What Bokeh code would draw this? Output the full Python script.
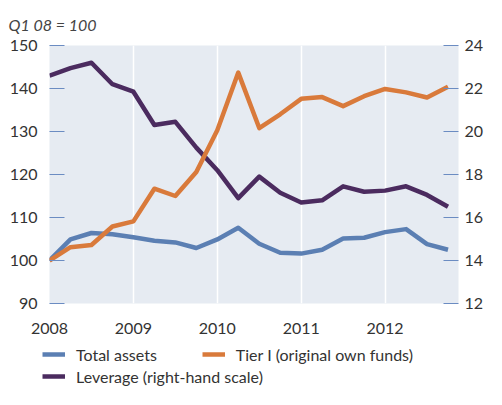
from bokeh.plotting import figure
from bokeh.models import Range1d, LinearAxis, FixedTicker, Legend, LegendItem
from bokeh.embed import file_html
from bokeh.resources import INLINE

# Quarterly observations, Q1 2008 .. Q4 2012
quarters = [2008.0, 2008.25, 2008.5, 2008.75,
            2009.0, 2009.25, 2009.5, 2009.75,
            2010.0, 2010.25, 2010.5, 2010.75,
            2011.0, 2011.25, 2011.5, 2011.75,
            2012.0, 2012.25, 2012.5, 2012.75]

total_assets = [100.0, 104.9, 106.4, 106.1, 105.4, 104.6, 104.2, 102.9,
                104.9, 107.6, 103.9, 101.8, 101.6, 102.5, 105.1, 105.3,
                106.6, 107.3, 103.8, 102.5]
tier1 = [100.0, 103.1, 103.6, 107.9, 109.1, 116.7, 115.0, 120.6,
         130.3, 143.7, 130.8, 134.0, 137.6, 138.0, 135.9, 138.2,
         139.9, 139.1, 137.9, 140.4]
leverage = [22.6, 22.95, 23.2, 22.2, 21.85, 20.3, 20.45, 19.25,
            18.2, 16.9, 17.9, 17.15, 16.7, 16.8, 17.45, 17.2,
            17.25, 17.45, 17.05, 16.5]

series_names = ["Total assets", "Tier I (original own funds)", "Leverage (right-hand scale)"]
year_ticks = [2008, 2009, 2010, 2011, 2012]
year_labels = ["2008", "2009", "2010", "2011", "2012"]
left_ticks = [90, 100, 110, 120, 130, 140, 150]
right_ticks = [12, 14, 16, 18, 20, 22, 24]

BLUE = "#5b7fb3"
ORANGE = "#d97a3b"
PURPLE = "#4b2b5f"
TICK = "#6b8cc2"
TXT = "#333333"
FONT = "Lato"
LW = 4.5

p = figure(width=486, height=336, x_range=Range1d(2008, 2012.875),
           y_range=Range1d(90, 150), output_backend="svg", toolbar_location=None,
           min_border_left=49, min_border_right=26, min_border_top=42,
           min_border_bottom=32, title="Q1 08 = 100")
p.background_fill_color = "#e6ebf2"
p.border_fill_color = "white"
p.outline_line_color = None

p.title.align = "left"
p.title.offset = -41
p.title.standoff = 24
p.title.text_font = FONT
p.title.text_font_style = "italic"
p.title.text_font_size = "16px"
p.title.text_color = "#444444"

p.extra_y_ranges = {"right": Range1d(12, 24)}
raxis = LinearAxis(y_range_name="right", ticker=FixedTicker(ticks=right_ticks))
p.add_layout(raxis, "right")

p.yaxis[0].ticker = FixedTicker(ticks=left_ticks)
for ax in [p.yaxis[0], raxis]:
    ax.axis_line_color = None
    ax.major_tick_in = 15
    ax.major_tick_out = 0
    ax.major_tick_line_color = TICK
    ax.major_tick_line_width = 1.2
    ax.minor_tick_line_color = None
    ax.major_label_text_font = FONT
    ax.major_label_text_font_size = "16px"
    ax.major_label_text_color = TXT
p.yaxis[0].major_label_standoff = 12
raxis.major_label_standoff = 6

xa = p.xaxis[0]
xa.ticker = FixedTicker(ticks=year_ticks)
xa.major_label_overrides = {t: l for t, l in zip(year_ticks, year_labels)}
xa.axis_line_color = None
xa.major_tick_line_color = None
xa.minor_tick_line_color = None
xa.major_label_standoff = 13
xa.major_label_text_font = FONT
xa.major_label_text_font_size = "16px"
xa.major_label_text_color = TXT

p.xgrid.ticker = FixedTicker(ticks=year_ticks[1:])
p.xgrid.grid_line_color = "white"
p.xgrid.grid_line_width = 1.5
p.ygrid.grid_line_color = None

p.line(quarters, leverage, y_range_name="right", line_color=PURPLE,
       line_width=LW, line_join="round")
p.line(quarters, total_assets, line_color=BLUE, line_width=LW, line_join="round")
p.line(quarters, tier1, line_color=ORANGE, line_width=LW, line_join="round")

# Legend strip below the chart (its own frame spans the full width, so nothing is clipped)
pl = figure(width=486, height=53, x_range=Range1d(0, 1), y_range=Range1d(0, 1),
            x_axis_location=None, y_axis_location=None, output_backend="svg",
            toolbar_location=None, min_border=0)
pl.outline_line_color = None
pl.grid.grid_line_color = None
pl.background_fill_color = "white"
pl.border_fill_color = "white"
# series drawn outside this strip's ranges: only their legend glyphs show
k_ta = pl.line(quarters, total_assets, line_color=BLUE, line_width=LW)
k_t1 = pl.line(quarters, tier1, line_color=ORANGE, line_width=LW)
k_lev = pl.line(quarters, leverage, line_color=PURPLE, line_width=LW)

common = dict(padding=0, margin=0, border_line_color=None, background_fill_alpha=0,
              glyph_width=23, glyph_height=22, label_standoff=11,
              label_text_font=FONT, label_text_font_size="16px", label_text_color=TXT)
leg1 = Legend(items=[LegendItem(label=series_names[0], renderers=[k_ta]),
                     LegendItem(label=series_names[1], renderers=[k_t1])],
              orientation="horizontal", spacing=45, location=(42, 24), **common)
leg2 = Legend(items=[LegendItem(label=series_names[2], renderers=[k_lev])],
              orientation="horizontal", location=(42, 2), **common)
pl.add_layout(leg1)
pl.add_layout(leg2)

open("out.html", "w").write(file_html([p, pl], INLINE))
